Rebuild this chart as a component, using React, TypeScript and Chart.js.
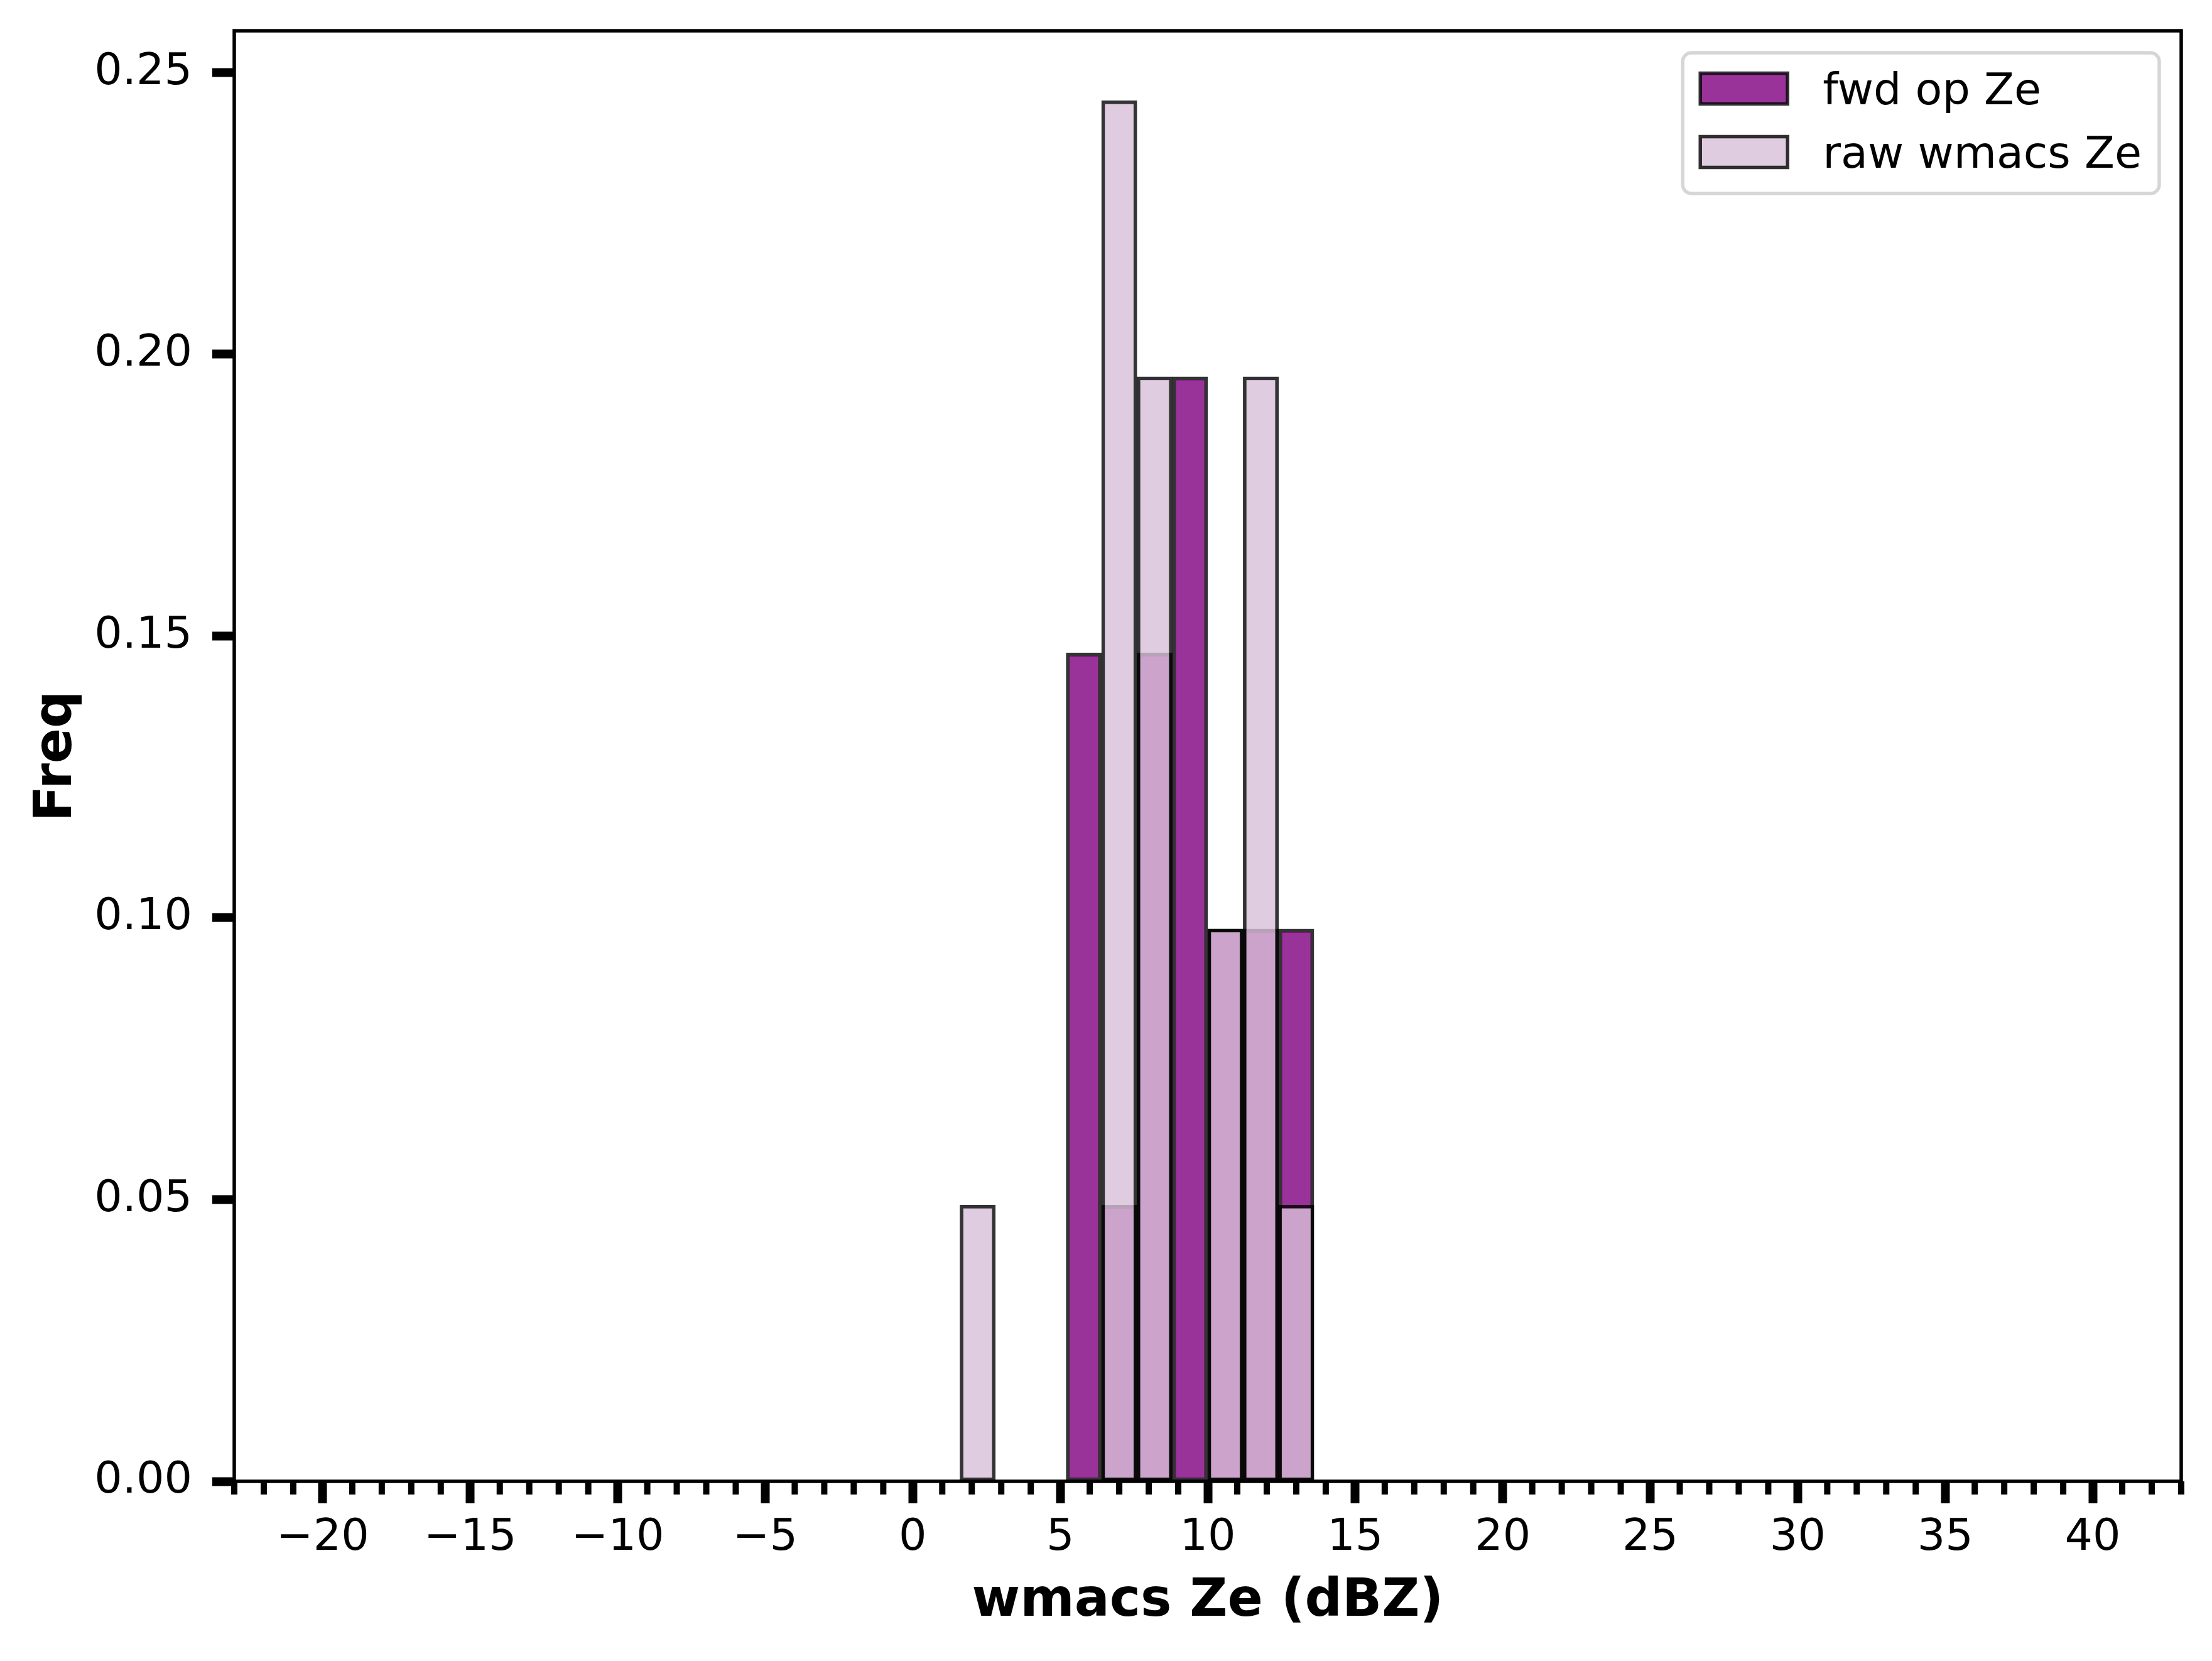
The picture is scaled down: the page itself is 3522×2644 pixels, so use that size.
import { useRef, useEffect } from 'react';
import Chart from 'chart.js/auto';

// histogram bins (centres, bin width 1.2 dBZ)
const binCenters = [2.2, 3.4, 4.6, 5.8, 7.0, 8.2, 9.4, 10.6, 11.8, 13.0];
const fwdFreq = [0, 0, 0, 0.147, 0.049, 0.147, 0.196, 0.098, 0.098, 0.098];
const rawFreq = [0.049, 0, 0, 0, 0.245, 0.196, 0, 0.098, 0.196, 0.049];
const seriesLabels = ['fwd op Ze', 'raw wmacs Ze'];

const xTicks = [-20, -15, -10, -5, 0, 5, 10, 15, 20, 25, 30, 35, 40];
const yTicks = [0, 0.05, 0.1, 0.15, 0.2, 0.25];

const FONT = 'DejaVu Sans';

const toPoints = (vals) =>
  binCenters.map((x, i) => ({ x, y: vals[i] })).filter((p) => p.y > 0);

const roundedRect = (ctx, x, y, w, h, r) => {
  ctx.beginPath();
  ctx.moveTo(x + r, y);
  ctx.arcTo(x + w, y, x + w, y + h, r);
  ctx.arcTo(x + w, y + h, x, y + h, r);
  ctx.arcTo(x, y + h, x, y, r);
  ctx.arcTo(x, y, x + w, y, r);
  ctx.closePath();
};

const mplLook = {
  id: 'mplLook',
  afterDatasetsDraw(chart) {
    const { ctx, chartArea: a, scales } = chart;
    const xs = scales.x;
    ctx.save();
    ctx.strokeStyle = '#000';
    // minor ticks every 1 dBZ
    ctx.lineWidth = 10;
    for (let v = Math.ceil(xs.min); v <= Math.floor(xs.max); v++) {
      if (v % 5 === 0) continue;
      const px = xs.getPixelForValue(v);
      ctx.beginPath();
      ctx.moveTo(px, a.bottom);
      ctx.lineTo(px, a.bottom + 21);
      ctx.stroke();
    }
    // axes frame
    ctx.lineWidth = 5.5;
    ctx.strokeRect(a.left, a.top, a.right - a.left, a.bottom - a.top);
    ctx.restore();
  },
  afterDraw(chart) {
    const { ctx, chartArea: a } = chart;
    const sets = chart.data.datasets;
    const fs = 70;
    const pad = 28, handleW = 139, handleH = 49, gap = 56, rowStep = 101;
    ctx.save();
    ctx.font = `${fs}px "${FONT}"`;
    const textW = Math.max(...sets.map((d) => ctx.measureText(d.label).width));
    const w = pad + handleW + gap + textW + pad;
    const h = 224;
    const right = a.right - 35;
    const top = a.top + 35;
    const left = right - w;

    roundedRect(ctx, left, top, w, h, 14);
    ctx.fillStyle = 'rgba(255,255,255,0.8)';
    ctx.fill();
    ctx.lineWidth = 5.5;
    ctx.strokeStyle = 'rgba(204,204,204,0.8)';
    ctx.stroke();

    sets.forEach((d, i) => {
      const cy = top + 57 + i * rowStep;
      const hx = left + pad;
      ctx.fillStyle = d.backgroundColor;
      ctx.fillRect(hx, cy - handleH / 2, handleW, handleH);
      ctx.lineWidth = 5.5;
      ctx.strokeStyle = d.borderColor;
      ctx.strokeRect(hx, cy - handleH / 2, handleW, handleH);
      ctx.fillStyle = '#000';
      ctx.textBaseline = 'alphabetic';
      ctx.textAlign = 'left';
      ctx.fillText(d.label, hx + handleW + gap, cy + 25);
    });
    ctx.restore();
  },
};

const App = () => {
  const canvasRef = useRef(null);

  useEffect(() => {
    if (!canvasRef.current) return;

    const chart = new Chart(canvasRef.current, {
      type: 'bar',
      data: {
        datasets: [
          {
            label: seriesLabels[0],
            data: toPoints(fwdFreq),
            backgroundColor: 'rgba(128,0,128,0.8)',
            borderColor: 'rgba(0,0,0,0.8)',
            borderWidth: 5.5,
            borderSkipped: false,
            order: 1,
          },
          {
            label: seriesLabels[1],
            data: toPoints(rawFreq),
            backgroundColor: 'rgba(216,191,216,0.8)',
            borderColor: 'rgba(0,0,0,0.8)',
            borderWidth: 5.5,
            borderSkipped: false,
            order: 0,
          },
        ],
      },
      options: {
        animation: false,
        responsive: true,
        maintainAspectRatio: false,
        grouped: false,
        barPercentage: 1,
        categoryPercentage: 1,
        layout: { padding: { left: 0, right: 49, top: 49, bottom: 0 } },
        plugins: {
          legend: { display: false },
          tooltip: { enabled: false },
        },
        scales: {
          x: {
            type: 'linear',
            min: -23,
            max: 43,
            bounds: 'data',
            offset: false,
            grid: {
              offset: false,
              drawOnChartArea: false,
              drawTicks: true,
              tickLength: 35,
              tickWidth: 14,
              tickColor: '#000',
            },
            border: { display: false },
            afterBuildTicks: (scale) => {
              scale.ticks = xTicks.map((value) => ({ value }));
            },
            afterFit: (scale) => {
              scale.height = 286;
              scale.paddingLeft = 0;
              scale.paddingRight = 0;
            },
            ticks: {
              autoSkip: false,
              minRotation: 0,
              maxRotation: 0,
              padding: 14,
              color: '#000',
              font: { family: FONT, size: 70 },
              callback: (v) => String(v).replace('-', '\u2212'),
            },
            title: {
              display: true,
              text: 'wmacs Ze (dBZ)',
              color: '#000',
              font: { family: FONT, size: 83, weight: 'bold' },
              padding: { top: 0, bottom: 44 },
            },
          },
          y: {
            type: 'linear',
            min: 0,
            max: 0.2574,
            bounds: 'data',
            grid: {
              drawOnChartArea: false,
              drawTicks: true,
              tickLength: 35,
              tickWidth: 14,
              tickColor: '#000',
            },
            border: { display: false },
            afterBuildTicks: (scale) => {
              scale.ticks = yTicks.map((value) => ({ value }));
            },
            afterFit: (scale) => {
              scale.width = 373;
              scale.paddingTop = 0;
              scale.paddingBottom = 0;
            },
            ticks: {
              padding: 32,
              color: '#000',
              font: { family: FONT, size: 70 },
              callback: (v) => Number(v).toFixed(2),
            },
            title: {
              display: true,
              text: 'Freq',
              color: '#000',
              font: { family: FONT, size: 83, weight: 'bold' },
              padding: { top: 42, bottom: 0 },
            },
          },
        },
      },
      plugins: [mplLook],
    });

    return () => chart.destroy();
  }, []);

  return (
    <div style={{ position: 'absolute', left: 0, top: 0, width: 3522, height: 2644, background: '#fff' }}>
      <canvas ref={canvasRef} />
    </div>
  );
};

export default App;
